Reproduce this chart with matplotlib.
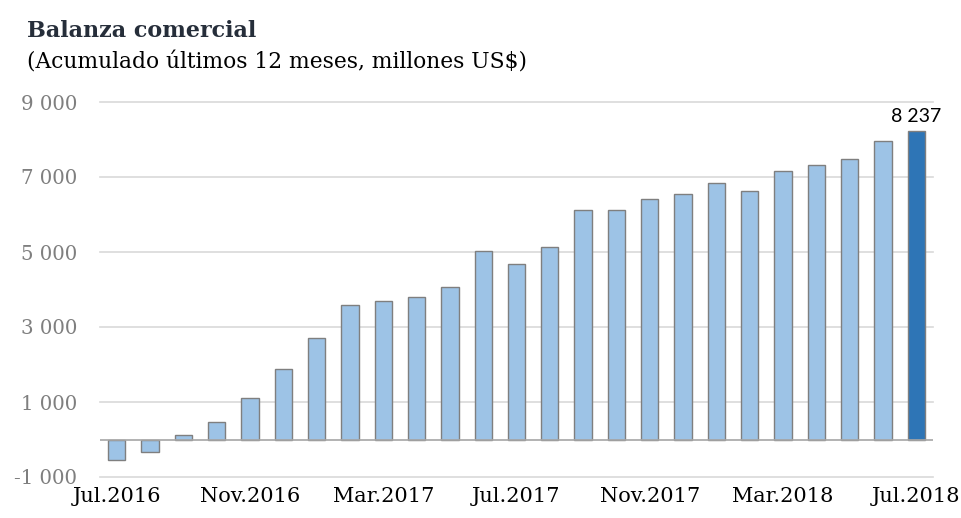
import matplotlib
matplotlib.use("Agg")
import matplotlib.pyplot as plt
import numpy as np

months = ["Jul.2016", "Ago.2016", "Sep.2016", "Oct.2016", "Nov.2016", "Dic.2016",
          "Ene.2017", "Feb.2017", "Mar.2017", "Abr.2017", "May.2017", "Jun.2017",
          "Jul.2017", "Ago.2017", "Sep.2017", "Oct.2017", "Nov.2017", "Dic.2017",
          "Ene.2018", "Feb.2018", "Mar.2018", "Abr.2018", "May.2018", "Jun.2018",
          "Jul.2018"]
values = [-540, -340, 125, 472, 1100, 1893, 2720, 3591, 3698, 3795, 4062, 5040,
          4685, 5128, 6125, 6133, 6418, 6560, 6844, 6631, 7147, 7316, 7485, 7965,
          8237]
tick_idx = [0, 4, 8, 12, 16, 20, 24]
yticks = [-1000, 1000, 3000, 5000, 7000, 9000]
ytick_labels = ["-1 000", "1 000", "3 000", "5 000", "7 000", "9 000"]
title = "Balanza comercial"
subtitle = "(Acumulado últimos 12 meses, millones US$)"
last_label = "8 237"

serif = ["DejaVu Serif"]
fig = plt.figure(figsize=(9.62, 5.18), dpi=100)
ax = fig.add_axes([100/962, 1-477/518, 833/962, 375/518])

x = np.arange(len(values))
colors = ["#9DC3E6"] * (len(values) - 1) + ["#2E75B6"]
ax.bar(x, values, width=0.52, color=colors, edgecolor="#7F7F7F", linewidth=1.0, zorder=3)

ax.set_xlim(-0.5, len(values) - 0.5)
ax.set_ylim(-1000, 9000)
ax.set_yticks(yticks)
ax.set_yticklabels(ytick_labels, fontfamily=serif, fontsize=14.2, color="#7F7F7F")
for yv in yticks:
    ax.axhline(yv, color="#D9D9D9", linewidth=1.2, zorder=1, clip_on=False)
ax.axhline(0, color="#A6A6A6", linewidth=1.2, zorder=4)

ax.set_xticks(tick_idx)
ax.set_xticklabels([months[i] for i in tick_idx], fontfamily=serif, fontsize=15, color="black")
ax.tick_params(axis="both", length=0)
ax.tick_params(axis="y", pad=16.5)
ax.tick_params(axis="x", pad=7)
for s in ax.spines.values():
    s.set_visible(False)

ax.text(x[-1], values[-1] + 150, last_label, ha="center", va="bottom",
        fontfamily=["Lato", "DejaVu Sans"], fontsize=14, color="black")

fig.text(27/962, 1-37/518, title, fontfamily=serif, fontweight="bold", fontsize=16,
         color="#262E3A", ha="left", va="baseline")
fig.text(27/962, 1-68/518, subtitle, fontfamily=serif, fontsize=15.7,
         color="black", ha="left", va="baseline")

fig.savefig("out.png", dpi=100)
